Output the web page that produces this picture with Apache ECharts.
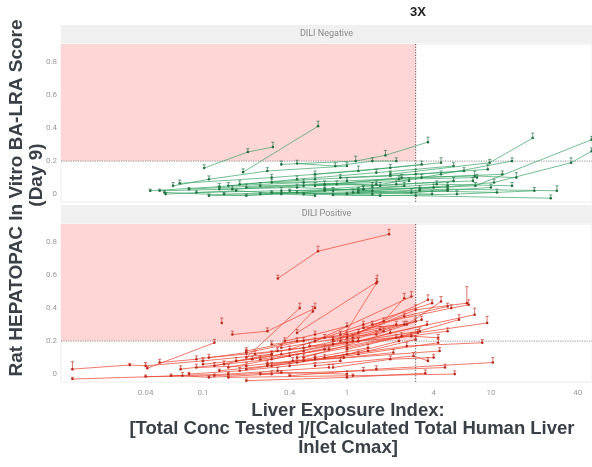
<!DOCTYPE html>
<html>
<head>
<meta charset="utf-8">
<script src="https://cdn.jsdelivr.net/npm/echarts@6/dist/echarts.min.js"></script>
<style>
  html, body { margin: 0; padding: 0; background: #fff; }
  #chart { width: 592px; height: 467px; }
</style>
</head>
<body>
<div id="chart"></div>
<script>
// Axis ticks and facet labels
const xTickValues = [0.04, 0.1, 0.4, 1, 4, 10, 40];
const xTickLabels = ['0.04', '0.1', '0.4', '1', '4', '10', '40'];
const yTickValues = [0, 0.2, 0.4, 0.6, 0.8];
const facetNames = ['DILI Negative', 'DILI Positive'];

// Decision thresholds
const scoreThreshold = 0.2;     // BA-LRA score cut-off
const exposureThreshold = 3;    // 3X liver exposure

// Each drug: [exposure index, BA-LRA score, error] per tested concentration
const negativeDrugs = [
  [[0.102, 0.158, 0.02], [0.205, 0.255, 0.02], [0.306, 0.285, 0.03]],
  [[0.19, 0.133, 0.02], [0.63, 0.412, 0.03]],
  [[0.043, 0.02, 0.01], [0.13, 0.045, 0.02], [0.45, 0.09, 0.02], [1.6, 0.13, 0.02], [5.5, 0.17, 0.02]],
  [[0.35, 0.18, 0.02], [1.15, 0.2, 0.03], [1.85, 0.235, 0.03], [3.65, 0.315, 0.03]],
  [[2.0, 0.12, 0.02], [9.8, 0.19, 0.02], [19.5, 0.34, 0.03]],
  [[1.2, 0.02, 0.02], [7.8, 0.05, 0.02], [50, 0.33, 0.02]],
  [[3.2, 0.03, 0.02], [10.5, 0.07, 0.02], [36, 0.19, 0.03], [50, 0.26, 0.02]],
  [[0.8, -0.005, 0.01], [3.0, -0.01, 0.02], [26, -0.025, 0.02]],
  [[1.1, 0.01, 0.02], [5, 0.03, 0.02], [28.7, 0.02, 0.03]],
  [[0.6, 0.05, 0.02], [2.4, 0.1, 0.02], [7.7, 0.11, 0.03], [15, 0.1, 0.03]],
  [[0.062, 0.05, 0.02], [0.11, 0.09, 0.02], [0.28, 0.14, 0.02], [1.0, 0.17, 0.02]],
  [[0.069, 0.065, 0.02], [0.3, 0.1, 0.02], [1.2, 0.14, 0.03], [4.5, 0.19, 0.03]],
  [[0.05, 0.02, 0.01], [0.16, 0.03, 0.02], [0.5, 0.05, 0.02], [1.6, 0.06, 0.02]],
  [[0.054, 0.01, 0.01], [0.2, -0.01, 0.01], [0.7, 0.02, 0.02], [2.5, 0.05, 0.02]],
  [[0.09, 0.01, 0.01], [0.35, 0.02, 0.02], [1.3, 0.03, 0.02], [4.0, 0.04, 0.02]],
  [[0.14, 0.0, 0.01], [0.45, 0.01, 0.01], [1.5, 0.0, 0.02], [5, 0.02, 0.02]],
  [[0.2, 0.04, 0.02], [0.7, 0.06, 0.02], [2.3, 0.09, 0.02], [8, 0.1, 0.02]],
  [[0.25, 0.0, 0.01], [0.8, 0.02, 0.02], [2.8, 0.01, 0.02], [10, 0.04, 0.02]],
  [[0.3, 0.07, 0.02], [1.0, 0.08, 0.02], [3.3, 0.1, 0.02], [12, 0.12, 0.02]],
  [[0.4, 0.02, 0.01], [1.3, 0.03, 0.02], [4.2, 0.06, 0.02], [14, 0.05, 0.02]],
  [[0.5, 0.0, 0.01], [1.7, -0.01, 0.01], [5.8, 0.0, 0.02], [20, 0.02, 0.02]],
  [[0.13, 0.03, 0.01], [0.45, 0.04, 0.02], [1.5, 0.02, 0.02], [5.0, 0.05, 0.02]],
  [[0.11, -0.01, 0.01], [0.35, 0.0, 0.01], [1.2, 0.01, 0.02], [3.9, 0.0, 0.02]],
  [[0.7, 0.03, 0.02], [2.2, 0.06, 0.02], [7.5, 0.08, 0.02]],
  [[0.9, 0.1, 0.02], [3.0, 0.12, 0.03], [9.5, 0.15, 0.03]],
  [[0.18, 0.06, 0.02], [0.6, 0.09, 0.02], [2.0, 0.11, 0.02], [6.5, 0.14, 0.02]],
  [[0.08, 0.03, 0.01], [0.25, 0.05, 0.02], [0.85, 0.06, 0.02], [2.7, 0.08, 0.02]],
  [[0.055, 0.0, 0.01], [0.17, 0.02, 0.01], [0.6, -0.01, 0.01]],
  [[0.45, 0.185, 0.02], [0.83, 0.17, 0.02], [1.5, 0.2, 0.02], [2.2, 0.2, 0.02]],
  [[1.5, 0.05, 0.02], [4.5, 0.12, 0.02], [14, 0.2, 0.02]],
  [[0.3, 0.01, 0.01], [1.0, 0.0, 0.01], [3.2, 0.02, 0.02], [11, 0.01, 0.02]],
  [[0.15, 0.05, 0.02], [0.5, 0.07, 0.02], [1.7, 0.05, 0.02], [5.5, 0.08, 0.02]],
  [[0.6, 0.12, 0.02], [2.0, 0.16, 0.02], [3.3, 0.18, 0.02]]
];

const positiveDrugs = [
  [[0.331, 0.58, 0.02], [0.629, 0.745, 0.03], [1.96, 0.848, 0.03]],
  [[0.45, 0.25, 0.02], [1.62, 0.56, 0.04]],
  [[0.9, 0.2, 0.02], [1.6, 0.55, 0.03]],
  [[0.16, 0.24, 0.02], [0.28, 0.26, 0.02], [0.6, 0.4, 0.03]],
  [[0.135, 0.31, 0.03]],
  [[0.0124, 0.03, 0.045], [0.031, 0.055, 0.01], [0.04, 0.05, 0.02], [0.1, 0.08, 0.02], [0.3, 0.12, 0.02]],
  [[0.0124, -0.03, 0.01], [0.072, -0.01, 0.02], [0.11, -0.02, 0.01], [0.3, 0.0, 0.02]],
  [[0.041, 0.035, 0.01], [0.12, 0.19, 0.02]],
  [[1.0, 0.22, 0.02], [3.0, 0.39, 0.03], [6.8, 0.43, 0.1]],
  [[0.6, 0.2, 0.02], [2.8, 0.47, 0.03]],
  [[1.2, 0.25, 0.02], [3.65, 0.45, 0.03]],
  [[0.4, 0.15, 0.02], [1.3, 0.3, 0.02], [3.9, 0.43, 0.02]],
  [[0.8, 0.2, 0.02], [2.5, 0.35, 0.02], [5.0, 0.41, 0.02]],
  [[1.5, 0.3, 0.02], [5.3, 0.4, 0.02], [7.0, 0.42, 0.03]],
  [[0.5, 0.1, 0.02], [2.0, 0.25, 0.02], [7.7, 0.36, 0.04]],
  [[1.0, 0.15, 0.02], [3.1, 0.25, 0.02], [9.4, 0.31, 0.04]],
  [[0.3, 0.05, 0.02], [1.2, 0.12, 0.02], [4.3, 0.19, 0.02]],
  [[0.5, 0.08, 0.02], [4.4, 0.14, 0.02]],
  [[0.7, 0.1, 0.02], [2.6, 0.17, 0.02], [8.7, 0.19, 0.02]],
  [[0.4, -0.01, 0.01], [1.6, 0.03, 0.02], [10.3, 0.07, 0.03]],
  [[0.15, -0.02, 0.01], [1.1, -0.01, 0.01], [5.6, 0.0, 0.02]],
  [[0.2, -0.04, 0.01], [1.0, -0.02, 0.01], [3.5, 0.005, 0.02]],
  [[0.25, 0.0, 0.01], [1.3, 0.02, 0.02], [4.8, 0.04, 0.02]],
  [[0.6, 0.05, 0.02], [2.9, 0.11, 0.02], [3.65, 0.08, 0.02]],
  [[0.2, 0.1, 0.02], [0.47, 0.4, 0.03]],
  [[0.12, 0.05, 0.02], [0.3, 0.12, 0.02], [0.58, 0.38, 0.03]],
  [[0.05, 0.07, 0.02], [0.09, 0.09, 0.02], [0.2, 0.13, 0.02], [0.5, 0.2, 0.02]],
  [[0.07, 0.03, 0.02], [0.14, 0.06, 0.02], [0.3, 0.09, 0.02], [0.7, 0.15, 0.02]],
  [[0.08, 0.0, 0.01], [0.18, 0.02, 0.02], [0.4, 0.05, 0.02], [0.9, 0.08, 0.02]],
  [[0.1, 0.06, 0.02], [0.22, 0.09, 0.02], [0.5, 0.14, 0.02], [1.1, 0.2, 0.02]],
  [[0.13, 0.02, 0.01], [0.28, 0.05, 0.02], [0.6, 0.1, 0.02], [1.4, 0.16, 0.02]],
  [[0.17, 0.08, 0.02], [0.35, 0.12, 0.02], [0.8, 0.18, 0.02], [1.8, 0.26, 0.02]],
  [[0.2, 0.03, 0.02], [0.45, 0.07, 0.02], [1.0, 0.12, 0.02], [2.3, 0.2, 0.02]],
  [[0.23, 0.12, 0.02], [0.5, 0.16, 0.02], [1.1, 0.22, 0.02], [2.5, 0.3, 0.02]],
  [[0.28, 0.06, 0.02], [0.6, 0.09, 0.02], [1.4, 0.14, 0.02], [3.0, 0.21, 0.02]],
  [[0.35, 0.16, 0.02], [0.8, 0.21, 0.02], [1.7, 0.27, 0.02], [3.0, 0.32, 0.02]],
  [[0.06, -0.01, 0.01], [0.15, 0.0, 0.01], [0.33, 0.02, 0.02], [0.75, 0.04, 0.02]],
  [[0.09, 0.04, 0.02], [0.2, 0.05, 0.02], [0.42, 0.08, 0.02], [0.95, 0.1, 0.02], [2.1, 0.13, 0.02]],
  [[0.3, 0.18, 0.02], [0.7, 0.22, 0.02], [1.6, 0.24, 0.02], [3.3, 0.33, 0.02]],
  [[0.45, 0.1, 0.02], [1.0, 0.16, 0.02], [2.2, 0.22, 0.02], [5.0, 0.26, 0.02]],
  [[0.04, -0.015, 0.01], [0.12, -0.01, 0.01], [0.35, 0.01, 0.01], [1.0, 0.0, 0.02]],
  [[0.2, 0.14, 0.02], [0.45, 0.2, 0.02], [1.0, 0.24, 0.02], [2.2, 0.3, 0.02]],
  [[0.55, 0.17, 0.02], [1.2, 0.2, 0.02], [2.8, 0.23, 0.02], [4.3, 0.22, 0.02]],
  [[0.37, 0.2, 0.02], [0.6, 0.24, 0.02], [1.0, 0.29, 0.02]],
  [[0.8, 0.04, 0.02], [2.0, 0.09, 0.02], [4.0, 0.1, 0.02]],
  [[1.3, 0.28, 0.02], [2.6, 0.3, 0.02], [4.5, 0.44, 0.03]],
  [[0.9, 0.24, 0.02], [1.8, 0.32, 0.02], [2.5, 0.46, 0.03]],
  [[0.15, 0.04, 0.02], [0.4, 0.11, 0.02], [1.2, 0.2, 0.02], [3.6, 0.3, 0.02]],
  [[0.25, 0.09, 0.02], [0.75, 0.15, 0.02], [2.4, 0.23, 0.02], [6.0, 0.33, 0.03]],
  [[0.11, 0.1, 0.02], [0.33, 0.14, 0.02], [1.0, 0.19, 0.02], [3.2, 0.26, 0.02]]
];

// ---- layout & styling ----
const X_MIN = Math.log10(0.01033);
const X_MAX = Math.log10(50.3);
const Y_MIN = -0.048;
const Y_MAX = 0.91;
const PANEL_LEFT = 61;
const PANEL_WIDTH = 531;
const PANEL_HEIGHT = 158;
const PANEL_TOPS = [44, 224];
const STRIP_H = 18;

const panelStyles = [
  { line: 'rgba(48,160,92,0.75)', point: '#22703f', bar: 'rgba(40,120,72,0.85)' },
  { line: 'rgba(236,68,48,0.8)', point: '#b8281a', bar: 'rgba(200,50,35,0.85)' }
];

const log10 = v => Math.log10(v);

function tickLabel(v) {
  let best = 0;
  xTickValues.forEach((t, i) => {
    if (Math.abs(log10(t) - v) < Math.abs(log10(xTickValues[best]) - v)) best = i;
  });
  return xTickLabels[best];
}

// Shaded "flag" zone plus the two dotted threshold lines of a panel
function renderGuides(params, api) {
  const cs = params.coordSys;
  const xCut = api.coord([log10(exposureThreshold), scoreThreshold]);
  return {
    type: 'group',
    children: [
      { type: 'rect', shape: { x: cs.x, y: cs.y, width: xCut[0] - cs.x, height: xCut[1] - cs.y },
        style: { fill: '#ffd6d6' } },
      { type: 'line', shape: { x1: cs.x, y1: xCut[1], x2: cs.x + cs.width, y2: xCut[1] },
        style: { stroke: '#8e8e8e', lineWidth: 1, lineDash: [1.2, 1.2] } },
      { type: 'line', shape: { x1: xCut[0], y1: cs.y, x2: xCut[0], y2: cs.y + cs.height },
        style: { stroke: '#555', lineWidth: 1, lineDash: [1.2, 1.5] } }
    ]
  };
}

// Upper error bar with a small cap
function makeErrorRenderer(color) {
  return function (params, api) {
    const x = api.value(0), y = api.value(1), e = api.value(2);
    const base = api.coord([x, y]);
    const top = api.coord([x, y + e]);
    return {
      type: 'group',
      children: [
        { type: 'line', shape: { x1: base[0], y1: base[1], x2: top[0], y2: top[1] },
          style: { stroke: color, lineWidth: 0.8 } },
        { type: 'line', shape: { x1: top[0] - 1.6, y1: top[1], x2: top[0] + 1.6, y2: top[1] },
          style: { stroke: color, lineWidth: 0.8 } }
      ]
    };
  };
}

const grids = PANEL_TOPS.map(t => ({ left: PANEL_LEFT, top: t, width: PANEL_WIDTH, height: PANEL_HEIGHT }));

const xAxes = PANEL_TOPS.map((t, i) => ({
  type: 'value', gridIndex: i, min: X_MIN, max: X_MAX,
  axisLine: { show: false }, axisTick: { show: false }, splitLine: { show: false },
  axisLabel: {
    show: i === 1, customValues: xTickValues.map(log10), formatter: tickLabel,
    color: '#9a9a9a', fontSize: 8, fontFamily: 'Roboto', margin: 7
  }
}));

const yAxes = PANEL_TOPS.map((t, i) => ({
  type: 'value', gridIndex: i, min: Y_MIN, max: Y_MAX,
  axisLine: { show: false },
  axisTick: { show: true, customValues: yTickValues, length: 2, lineStyle: { color: '#d0d0d0' } },
  splitLine: { show: false },
  axisLabel: {
    customValues: yTickValues, color: '#9a9a9a', fontSize: 8, fontFamily: 'Roboto', margin: 4
  }
}));

const series = [];
[negativeDrugs, positiveDrugs].forEach((drugs, i) => {
  const st = panelStyles[i];
  series.push({
    type: 'custom', xAxisIndex: i, yAxisIndex: i, silent: true, z: 1,
    renderItem: renderGuides, data: [[log10(exposureThreshold), scoreThreshold]]
  });
  drugs.forEach(drug => {
    series.push({
      type: 'line', xAxisIndex: i, yAxisIndex: i, silent: true, z: 3,
      data: drug.map(p => [log10(p[0]), p[1]]),
      symbol: 'circle', symbolSize: 2.6, showSymbol: true,
      lineStyle: { width: 0.9, color: st.line },
      itemStyle: { color: st.point }
    });
  });
  const bars = [];
  drugs.forEach(drug => drug.forEach(p => bars.push([log10(p[0]), p[1], p[2]])));
  series.push({
    type: 'custom', xAxisIndex: i, yAxisIndex: i, silent: true, z: 4, clip: true,
    renderItem: makeErrorRenderer(st.bar), encode: { x: 0, y: 1 }, data: bars
  });
});

const graphic = [];
PANEL_TOPS.forEach((t, i) => {
  graphic.push({ type: 'rect', silent: true,
    shape: { x: PANEL_LEFT, y: t - STRIP_H - 1, width: PANEL_WIDTH, height: STRIP_H },
    style: { fill: '#f0f0f0' } });
  graphic.push({ type: 'text', silent: true, x: PANEL_LEFT + PANEL_WIDTH / 2, y: t - STRIP_H / 2 - 1,
    style: { text: facetNames[i], font: '9px Roboto', fill: '#8a8a8a', textAlign: 'center', textVerticalAlign: 'middle' } });
  graphic.push({ type: 'rect', silent: true, z: -1,
    shape: { x: PANEL_LEFT, y: t, width: PANEL_WIDTH, height: PANEL_HEIGHT },
    style: { fill: 'none', stroke: '#ececec', lineWidth: 1 } });
});

const yTitleFont = 'bold 19px "Liberation Sans", Arial, sans-serif';
const xTitleFont = 'bold 18.5px "Liberation Sans", Arial, sans-serif';
const titleColor = '#3a4048';
graphic.push(
  { type: 'text', silent: true, x: 418, y: 12,
    style: { text: '3X', font: 'bold 13px "Liberation Sans", Arial, sans-serif', fill: '#222', textAlign: 'center', textVerticalAlign: 'middle' } },
  { type: 'text', silent: true, x: 17, y: 198, rotation: Math.PI / 2,
    style: { text: 'Rat HEPATOPAC In Vitro BA-LRA Score', font: yTitleFont, fill: titleColor, textAlign: 'center', textVerticalAlign: 'middle' } },
  { type: 'text', silent: true, x: 37, y: 175, rotation: Math.PI / 2,
    style: { text: '(Day 9)', font: yTitleFont, fill: titleColor, textAlign: 'center', textVerticalAlign: 'middle' } },
  { type: 'text', silent: true, x: 348, y: 411,
    style: { text: 'Liver Exposure Index:', font: xTitleFont, fill: titleColor, textAlign: 'center', textVerticalAlign: 'middle' } },
  { type: 'text', silent: true, x: 352, y: 429,
    style: { text: '[Total Conc Tested ]/[Calculated Total Human Liver', font: xTitleFont, fill: titleColor, textAlign: 'center', textVerticalAlign: 'middle' } },
  { type: 'text', silent: true, x: 348, y: 448,
    style: { text: 'Inlet Cmax]', font: xTitleFont, fill: titleColor, textAlign: 'center', textVerticalAlign: 'middle' } }
);

const chart = echarts.init(document.getElementById('chart'));
chart.setOption({
  animation: false,
  backgroundColor: '#ffffff',
  grid: grids,
  xAxis: xAxes,
  yAxis: yAxes,
  series: series,
  graphic: graphic
});
</script>
</body>
</html>
